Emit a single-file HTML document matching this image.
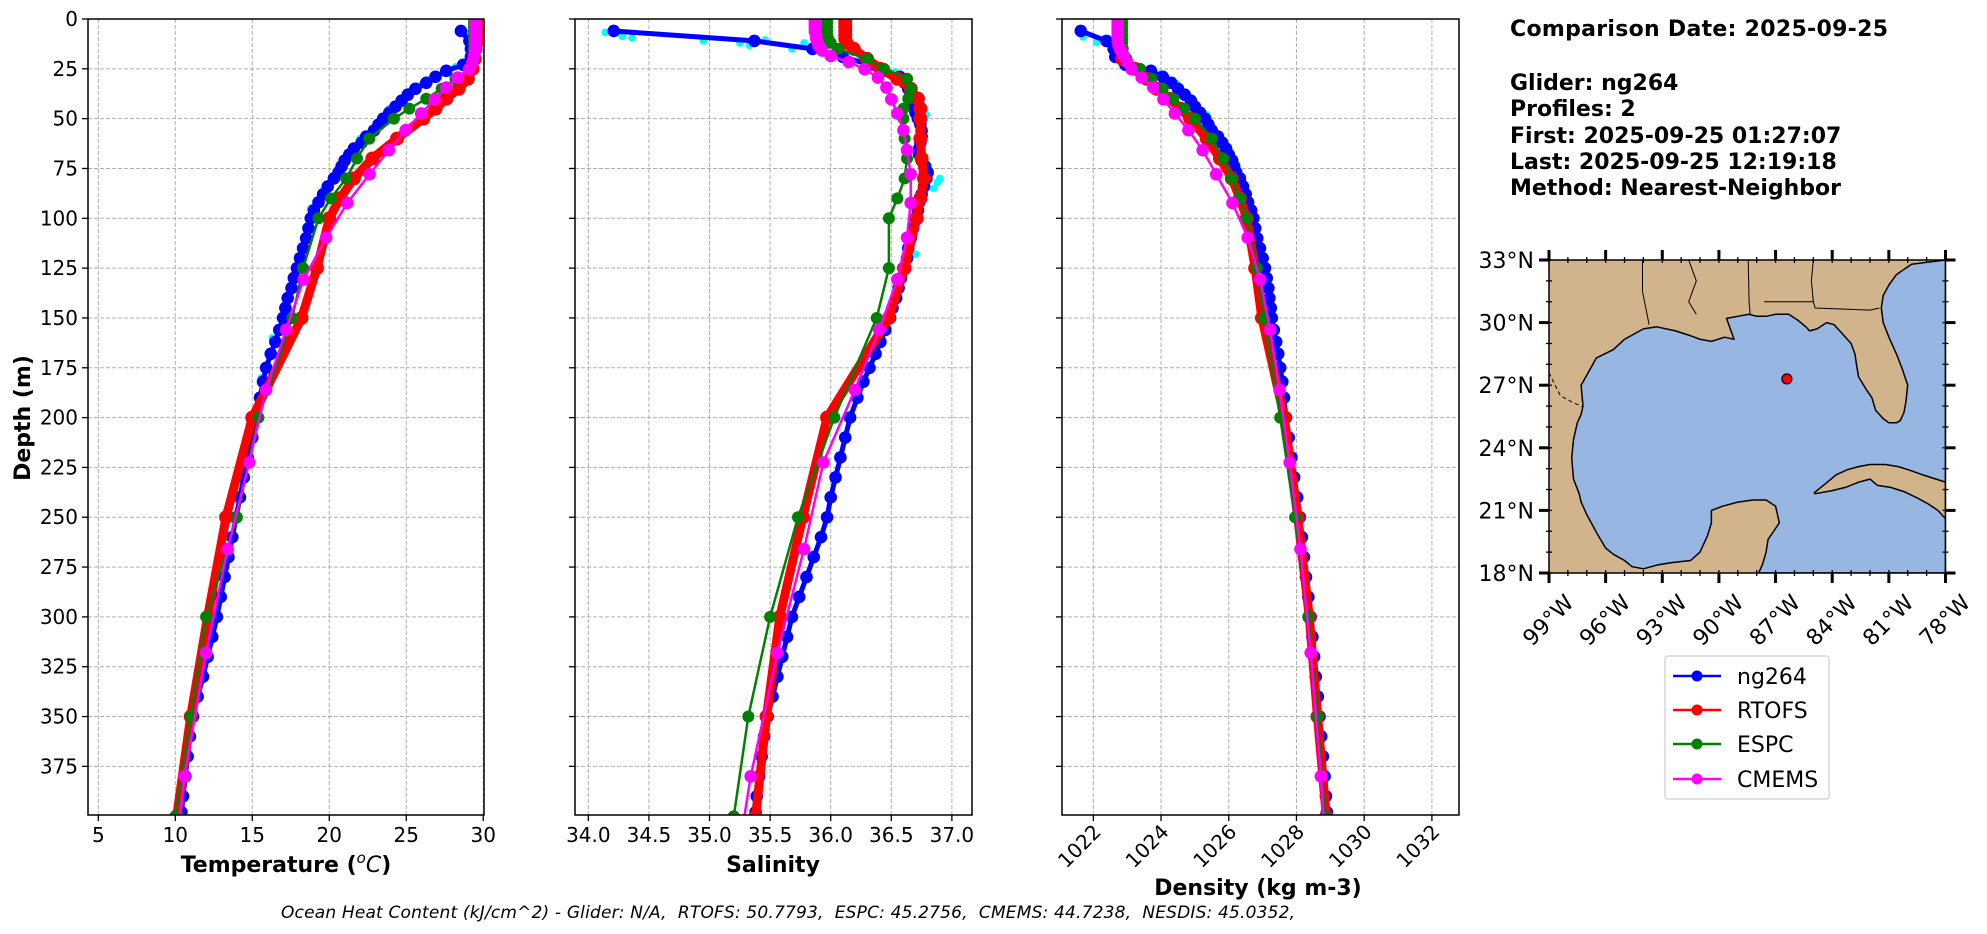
<!DOCTYPE html>
<html><head><meta charset="utf-8"><title>Glider vs models profile comparison</title>
<style>
html,body{margin:0;padding:0;background:#fff;}
svg{display:block;font-family:"DejaVu Sans","Liberation Sans",sans-serif;}
.tick{font-size:20px;fill:#000;}
.lab{font-size:22px;font-weight:bold;fill:#000;}
.grid{stroke:#b0b0b0;stroke-width:1;stroke-dasharray:4,2;}
</style></head>
<body>
<svg id="fig" width="1987" height="934" viewBox="0 0 1987 934" xmlns="http://www.w3.org/2000/svg">
<rect width="1987" height="934" fill="#fff"/>
<g id="panels"></g>
<g id="map"></g>
<g font-weight="bold" font-size="22">
<text x="1510" y="36" textLength="378">Comparison Date: 2025-09-25</text>
<text x="1510" y="90">Glider: ng264</text>
<text x="1510" y="116">Profiles: 2</text>
<text x="1510" y="143">First: 2025-09-25 01:27:07</text>
<text x="1510" y="169">Last: 2025-09-25 12:19:18</text>
<text x="1510" y="195">Method: Nearest-Neighbor</text>
</g>
<g>
<rect x="1665" y="656" width="164" height="143" rx="3" fill="#fff" stroke="#d5d5d5" stroke-width="1.5"/>
<g><line x1="1673" y1="676" x2="1721" y2="676" stroke="#0000ff" stroke-width="2.5"/><circle cx="1697" cy="676" r="5.5" fill="#0000ff"/><text x="1737" y="684" font-size="22">ng264</text></g>
<g><line x1="1673" y1="710" x2="1721" y2="710" stroke="#ff0000" stroke-width="2.5"/><circle cx="1697" cy="710" r="5.5" fill="#ff0000"/><text x="1737" y="718" font-size="22">RTOFS</text></g>
<g><line x1="1673" y1="744" x2="1721" y2="744" stroke="#008000" stroke-width="2.5"/><circle cx="1697" cy="744" r="5.5" fill="#008000"/><text x="1737" y="752" font-size="22">ESPC</text></g>
<g><line x1="1673" y1="779" x2="1721" y2="779" stroke="#ff00ff" stroke-width="2.5"/><circle cx="1697" cy="779" r="5.5" fill="#ff00ff"/><text x="1737" y="787" font-size="22">CMEMS</text></g>
</g>
<text x="281" y="918" font-size="17" font-style="italic" textLength="1014" xml:space="preserve">Ocean Heat Content (kJ/cm^2) - Glider: N/A,  RTOFS: 50.7793,  ESPC: 45.2756,  CMEMS: 44.7238,  NESDIS: 45.0352,</text>
</svg>
<script>
// ---------- data ----------
const gDepth=[6,11,15,19,23,26,29,32,35,38,41,44,47,50,53,56,59,62,65,68,71,74,77,80,84,88,92,96,100,105,110,115,120,125,130,135,140,145,150,156,162,168,175,182,190,200,210,220,230,240,250,260,270,280,290,300,310,320,330,340,350,360,370,380,390,398];
const gTemp=[28.55,29.1,29.2,29.2,28.7,27.6,26.9,26.3,25.6,25.1,24.7,24.3,23.9,23.5,23.2,22.9,22.4,22.1,21.6,21.3,21.0,20.8,20.6,20.3,19.9,19.6,19.3,19.0,18.8,18.65,18.5,18.3,18.1,17.9,17.7,17.55,17.3,17.15,17.0,16.75,16.5,16.2,15.9,15.7,15.5,15.3,15.0,14.7,14.45,14.2,13.95,13.7,13.45,13.2,12.95,12.7,12.4,12.1,11.8,11.45,11.15,10.95,10.8,10.65,10.5,10.4];
const gSal=[34.21,35.37,35.85,36.1,36.33,36.43,36.57,36.61,36.64,36.66,36.67,36.68,36.7,36.72,36.74,36.75,36.75,36.74,36.73,36.73,36.75,36.78,36.8,36.79,36.77,36.75,36.73,36.72,36.7,36.68,36.66,36.64,36.63,36.6,36.58,36.56,36.54,36.51,36.49,36.45,36.41,36.37,36.32,36.27,36.22,36.16,36.12,36.08,36.04,36.0,35.97,35.92,35.86,35.8,35.74,35.68,35.64,35.6,35.56,35.52,35.48,35.45,35.43,35.41,35.39,35.38];
const gDen=[1021.63,1022.39,1022.6,1022.65,1022.95,1023.7,1024.05,1024.3,1024.5,1024.7,1024.88,1025.0,1025.15,1025.3,1025.4,1025.5,1025.68,1025.8,1025.92,1026.0,1026.1,1026.16,1026.22,1026.33,1026.42,1026.5,1026.57,1026.66,1026.73,1026.78,1026.84,1026.92,1027.0,1027.07,1027.12,1027.17,1027.2,1027.24,1027.27,1027.33,1027.4,1027.46,1027.52,1027.58,1027.63,1027.69,1027.77,1027.85,1027.93,1028.02,1028.1,1028.16,1028.22,1028.28,1028.35,1028.42,1028.47,1028.52,1028.57,1028.63,1028.68,1028.73,1028.78,1028.83,1028.87,1028.9];

const cTDepth=[5,7,9,12,14,18,24,27,30,33,36,40,45,52,60,70,78,86,95,105,115,125,140,160,180];
const cTemp=[28.6,28.9,29.0,29.1,29.2,29.1,28.2,27.4,26.6,26.0,25.3,24.6,23.9,23.1,22.0,20.9,20.4,19.6,18.8,18.5,18.2,17.8,17.2,16.3,15.6];
const cSDepth=[6.7,8.7,9.5,11.0,12.0,13.2,10.5,15.0,12.0,26.5,48,80,82,85,118];
const cSal=[34.14,34.28,34.36,34.95,35.25,35.33,35.46,35.68,35.78,36.53,36.79,36.9,36.88,36.85,36.7];
const cDDepth=[9,11.7,27.5,32.5,38,48,59];
const cDen=[1021.7,1022.1,1024.0,1024.46,1024.76,1025.35,1025.74];

const rDepth=[0,2,4,6,8,10,12,15,20,25,30,35,40,45,50,60,70,80,90,100,125,150,200,250,300,350,400];
const rTemp=[29.6,29.6,29.6,29.6,29.6,29.55,29.55,29.5,29.45,29.3,29.0,28.4,27.6,26.9,26.1,24.4,22.8,21.6,20.7,20.0,19.2,18.2,15.0,13.3,12.1,11.0,10.1];
const rSal=[36.12,36.12,36.12,36.12,36.12,36.12,36.13,36.19,36.3,36.41,36.55,36.66,36.72,36.74,36.74,36.74,36.75,36.77,36.74,36.71,36.61,36.48,35.97,35.77,35.58,35.47,35.38];
const rDen=[1022.78,1022.78,1022.78,1022.78,1022.78,1022.78,1022.78,1022.8,1022.85,1023.23,1023.58,1023.87,1024.27,1024.57,1024.86,1025.35,1025.74,1026.09,1026.33,1026.53,1026.78,1026.98,1027.64,1028.04,1028.38,1028.62,1028.88];

const eDepth=[0,2,4,6,8,10,12,15,20,25,30,35,40,45,50,60,70,80,90,100,125,150,200,250,300,350,400];
const eTemp=[29.4,29.4,29.4,29.4,29.4,29.4,29.4,29.4,29.35,29.1,28.2,27.3,26.3,25.2,24.2,22.6,21.8,21.1,20.1,19.3,18.3,17.6,15.4,14.0,12.0,11.0,10.0];
const eSal=[35.97,35.97,35.97,35.97,35.97,35.98,36.0,36.06,36.3,36.44,36.63,36.66,36.64,36.6,36.6,36.61,36.63,36.61,36.55,36.48,36.48,36.38,36.03,35.73,35.5,35.32,35.2];
const eDen=[1022.85,1022.85,1022.85,1022.85,1022.85,1022.85,1022.85,1022.87,1022.98,1023.38,1023.72,1024.05,1024.36,1024.68,1025.0,1025.5,1025.84,1026.09,1026.33,1026.53,1026.83,1027.04,1027.52,1027.96,1028.35,1028.62,1028.85];

const mDepth=[0.5,1.5,2.6,3.8,5,6.4,7.9,9.6,11.4,13.5,15.8,18.5,21.6,25.2,29.4,34.4,40.3,47.4,55.8,65.8,77.9,92.3,109.7,130.7,155.9,186.1,222.5,266,318,380,453];
const mTemp=[29.5,29.5,29.5,29.5,29.5,29.5,29.5,29.5,29.5,29.48,29.45,29.4,29.3,29.07,28.35,27.6,26.84,25.97,24.96,23.87,22.62,21.17,19.8,18.33,17.2,15.9,14.8,13.4,12.0,10.6,9.5];
const mSal=[35.87,35.87,35.87,35.87,35.87,35.87,35.88,35.88,35.89,35.9,35.93,36.0,36.15,36.28,36.39,36.46,36.5,36.55,36.6,36.63,36.66,36.66,36.63,36.55,36.4,36.2,35.94,35.78,35.56,35.34,35.15];
const mDen=[1022.72,1022.72,1022.72,1022.72,1022.72,1022.72,1022.72,1022.72,1022.72,1022.75,1022.82,1022.9,1023.0,1023.13,1023.43,1023.77,1024.07,1024.41,1024.81,1025.23,1025.63,1026.11,1026.56,1026.93,1027.22,1027.5,1027.8,1028.12,1028.42,1028.72,1029.0];

const depthTicks=[0,25,50,75,100,125,150,175,200,225,250,275,300,325,350,375];
const tempTicks=[5,10,15,20,25,30];
const salTicks=[34.0,34.5,35.0,35.5,36.0,36.5,37.0];
const denTicks=[1022,1024,1026,1028,1030,1032];

// map data
const coastLon=[-97.2,-97.3,-96.8,-96.5,-95.6,-95.0,-94.4,-94.0,-93.3,-92.3,-91.6,-91.0,-90.4,-89.7,-89.2,-89.4,-89.6,-89.0,-88.4,-88.0,-87.5,-87.0,-86.3,-85.8,-85.4,-85.2,-84.8,-84.3,-83.9,-83.5,-83.0,-82.8,-82.7,-82.6,-82.2,-81.9,-81.7,-81.3,-81.0,-80.6,-80.4,-80.2,-80.1,-80.0,-80.3,-80.6,-81.0,-81.3,-81.4,-81.3,-81.0,-80.6,-79.8,-78,-78,-87.9,-87.7,-87.5,-87.4,-86.8,-87.0,-87.5,-88.2,-89.0,-89.8,-90.4,-90.4,-90.6,-91.0,-91.5,-92.5,-93.2,-94.0,-94.6,-95.0,-95.6,-96.0,-96.4,-96.7,-97.0,-97.3,-97.4,-97.7,-97.8,-97.7,-97.5,-97.3];
const coastLat=[26.0,27.0,27.8,28.3,28.7,29.2,29.5,29.7,29.8,29.6,29.4,29.2,29.1,29.3,29.2,29.7,30.2,30.3,30.4,30.3,30.3,30.4,30.4,30.1,29.8,29.6,29.7,30.0,29.9,29.5,29.0,28.5,27.9,27.4,26.8,26.4,25.8,25.4,25.2,25.2,25.3,25.7,26.2,27.0,27.8,28.5,29.3,30.0,30.7,31.3,31.8,32.3,32.8,33.0,18,18,18.4,19.0,19.6,20.4,21.2,21.5,21.5,21.4,21.2,21.0,20.4,19.8,19.0,18.6,18.5,18.4,18.2,18.3,18.6,18.9,19.2,19.8,20.3,20.8,21.4,21.8,22.5,23.5,24.4,25.2,25.6];
const cubaLon=[-84.95,-84.4,-83.8,-83.2,-82.6,-82.0,-81.2,-80.5,-79.8,-79.2,-78.5,-78,-78,-78.4,-78.9,-79.5,-80.2,-80.9,-81.6,-82.0,-82.6,-83.3,-84.0,-84.6,-84.9];
const cubaLat=[21.85,22.25,22.7,22.95,23.1,23.2,23.2,23.1,22.9,22.7,22.5,22.35,20.6,21.0,21.3,21.6,21.9,22.1,22.2,22.5,22.35,22.1,21.95,21.85,21.8];
const borderLon=[[-94.05,-94.05,-93.7],[-91.6,-91.2,-91.6,-91.2],[-88.45,-88.4,-88.35],[-85.0,-85.1,-85.0],[-87.6,-85.0,-84.9,-82.0,-81.5],[-99,-98.4,-97.8,-97.2]];
const borderLat=[[33,31.5,29.9],[33,32.0,31.0,30.4],[33,31.0,30.4],[33,32.0,31.0],[31.0,31.0,30.7,30.6,30.7],[27.6,26.5,26.2,25.95]];
const stationLon=[-86.4];
const stationLat=[27.3];
const latTicks=[18,21,24,27,30,33];
const lonTicks=[-99,-96,-93,-90,-87,-84,-81,-78];

// ---------- drawing ----------
const NS='http://www.w3.org/2000/svg';
function mk(tag,attrs,parent){const e=document.createElementNS(NS,tag);for(const k in attrs)e.setAttribute(k,attrs[k]);parent.appendChild(e);return e;}
const Y0=19,Y1=815,DMAX=399.4;
function sy(d){return Y0+d/DMAX*(Y1-Y0);}
const panels=[
 {id:'temperature',x0:88,x1:484,min:4.33,max:30.05,ticks:tempTicks,fmt:v=>String(v),rot:false,label:'temp'},
 {id:'salinity',x0:575,x1:972,min:33.89,max:37.166,ticks:salTicks,fmt:v=>v.toFixed(1),rot:false,label:'sal'},
 {id:'density',x0:1062,x1:1459,min:1021.075,max:1032.8,ticks:denTicks,fmt:v=>String(v),rot:true,label:'den'}
];
function sx(p,v){return p.x0+(v-p.min)/(p.max-p.min)*(p.x1-p.x0);}
const root=document.getElementById('panels');
const defs=mk('defs',{},root);
panels.forEach((p,pi)=>{
  const g=mk('g',{},root);
  
  
  const cp=mk('clipPath',{id:'clip'+pi},defs);
  mk('rect',{x:p.x0,y:Y0,width:p.x1-p.x0,height:Y1-Y0},cp);
  const gg=mk('g',{},g);
  
  
  p.ticks.forEach(t=>{const x=sx(p,t);mk('line',{x1:x,x2:x,y1:Y0,y2:Y1,class:'grid'},gg);});
  depthTicks.forEach(d=>{const y=sy(d);mk('line',{x1:p.x0,x2:p.x1,y1:y,y2:y,class:'grid'},gg);});
  const plot=mk('g',{'clip-path':'url(#clip'+pi+')'},g);
  
  
  const sets={
    temp:[[cTDepth,cTemp],[gDepth,gTemp],[rDepth,rTemp],[eDepth,eTemp],[mDepth,mTemp]],
    sal:[[cSDepth,cSal],[gDepth,gSal],[rDepth,rSal],[eDepth,eSal],[mDepth,mSal]],
    den:[[cDDepth,cDen],[gDepth,gDen],[rDepth,rDen],[eDepth,eDen],[mDepth,mDen]]
  }[p.label];
  const styles=[
    {name:'glider-raw',col:'#00ffff',lw:0,r:3.8},
    {name:'ng264',col:'#0000ff',lw:5,r:6.3},
    {name:'rtofs',col:'#ff0000',lw:9,r:7},
    {name:'espc',col:'#008000',lw:2.5,r:6},
    {name:'cmems',col:'#ff00ff',lw:2.5,r:6.3}
  ];
  sets.forEach((s,si)=>{
    const st=styles[si];
    const sg=mk('g',{},plot);
    
    
    const pts=s[0].map((d,i)=>sx(p,s[1][i]).toFixed(1)+','+sy(d).toFixed(1));
    if(st.lw>0){
      const pl=mk('polyline',{points:pts.join(' '),fill:'none',stroke:st.col,'stroke-width':st.lw,'stroke-linejoin':'round'},sg);
      
      
    }
    s[0].forEach((d,i)=>{
      const c=mk('circle',{cx:sx(p,s[1][i]),cy:sy(d),r:st.r,fill:st.col},sg);
      
      
    });
  });
  const fr=mk('rect',{x:p.x0,y:Y0,width:p.x1-p.x0,height:Y1-Y0,fill:'none',stroke:'#000','stroke-width':1.5},g);
  
  
  const xt=mk('g',{},g);
  
  
  p.ticks.forEach(t=>{
    const x=sx(p,t);
    mk('line',{x1:x,x2:x,y1:Y1,y2:Y1+6,stroke:'#000','stroke-width':1.3},xt);
    let tx;
    if(p.rot){tx=mk('text',{x:x+9,y:Y1+18,class:'tick','text-anchor':'end',transform:'rotate(-45 '+(x+9)+' '+(Y1+18)+')'},xt);}
    else{tx=mk('text',{x:x,y:Y1+27,class:'tick','text-anchor':'middle'},xt);}
    tx.textContent=p.fmt(t);
    
    
  });
  const yt=mk('g',{},g);
  
  
  depthTicks.forEach(d=>{
    const y=sy(d);
    mk('line',{x1:p.x0-6,x2:p.x0,y1:y,y2:y,stroke:'#000','stroke-width':1.3},yt);
    if(pi===0){
      const tx=mk('text',{x:p.x0-10,y:y+7,class:'tick','text-anchor':'end'},yt);
      tx.textContent=String(d);
      
      
    }
  });
});
const xl1=mk('text',{x:286,y:872,class:'lab','text-anchor':'middle'},root);
xl1.innerHTML='Temperature (<tspan font-size="15" dy="-9" font-weight="normal" font-style="italic">o</tspan><tspan dy="9" font-style="italic" font-weight="normal">C</tspan>)';


const xl2=mk('text',{x:773,y:872,class:'lab','text-anchor':'middle'},root);
xl2.textContent='Salinity';


const xl3=mk('text',{x:1258,y:895,class:'lab','text-anchor':'middle'},root);
xl3.textContent='Density (kg m-3)';


const yl=mk('text',{x:30,y:418,class:'lab','text-anchor':'middle',transform:'rotate(-90 30 418)'},root);
yl.textContent='Depth (m)';



// ---------- map ----------
const M={x0:1549,x1:1945.5,y0:260,y1:573,lon0:-99,lon1:-78,lat0:18,lat1:33};
function mx(l){return M.x0+(l-M.lon0)/(M.lon1-M.lon0)*(M.x1-M.x0);}
function my(l){return M.y1-(l-M.lat0)/(M.lat1-M.lat0)*(M.y1-M.y0);}
const mg=document.getElementById('map');
const mdefs=mk('defs',{},mg);
const mcp=mk('clipPath',{id:'mapclip'},mdefs);
mk('rect',{x:M.x0,y:M.y0,width:M.x1-M.x0,height:M.y1-M.y0},mcp);
const mbody=mk('g',{'clip-path':'url(#mapclip)'},mg);
const land=mk('rect',{x:M.x0,y:M.y0,width:M.x1-M.x0,height:M.y1-M.y0,fill:'#d2b48c'},mbody);


const ocean=mk('polygon',{points:coastLon.map((l,i)=>mx(l).toFixed(1)+','+my(coastLat[i]).toFixed(1)).join(' '),fill:'#97b6e1',stroke:'#000','stroke-width':1.5,'stroke-linejoin':'round'},mbody);


const cuba=mk('polygon',{points:cubaLon.map((l,i)=>mx(l).toFixed(1)+','+my(cubaLat[i]).toFixed(1)).join(' '),fill:'#d2b48c',stroke:'#000','stroke-width':1.5},mbody);


borderLon.forEach((bl,bi)=>{
  const b=mk('polyline',{points:bl.map((l,i)=>mx(l).toFixed(1)+','+my(borderLat[bi][i]).toFixed(1)).join(' '),fill:'none',stroke:'#000','stroke-width':1,'stroke-dasharray':bi===5?'4,3':'none'},mbody);
  
  
});
stationLon.forEach((l,i)=>{
  const c=mk('circle',{cx:mx(l),cy:my(stationLat[i]),r:5,fill:'#ff0000',stroke:'#000','stroke-width':1.2},mbody);
  
  
});
const mf=mk('rect',{x:M.x0,y:M.y0,width:M.x1-M.x0,height:M.y1-M.y0,fill:'none',stroke:'#000','stroke-width':1.5},mg);


const mt=mk('g',{},mg);


for(let la=M.lat0;la<=M.lat1;la++){const y=my(la);mk('line',{x1:M.x0-3,x2:M.x0+3,y1:y,y2:y,stroke:'#000','stroke-width':1.3},mt);mk('line',{x1:M.x1-3,x2:M.x1+3,y1:y,y2:y,stroke:'#000','stroke-width':1.3},mt);}
for(let lo=M.lon0;lo<=M.lon1;lo++){const x=mx(lo);mk('line',{x1:x,x2:x,y1:M.y1-3,y2:M.y1+3,stroke:'#000','stroke-width':1.3},mt);mk('line',{x1:x,x2:x,y1:M.y0-3,y2:M.y0+3,stroke:'#000','stroke-width':1.3},mt);}
latTicks.forEach(la=>{
  const y=my(la);
  mk('line',{x1:M.x0-10,x2:M.x0,y1:y,y2:y,stroke:'#000','stroke-width':3},mt);
  mk('line',{x1:M.x1,x2:M.x1+10,y1:y,y2:y,stroke:'#000','stroke-width':3},mt);
  const t=mk('text',{x:M.x0-15,y:y+8,'font-size':22,'text-anchor':'end'},mt);
  t.textContent=la+'°N';
  
  
});
lonTicks.forEach(lo=>{
  const x=mx(lo);
  mk('line',{x1:x,x2:x,y1:M.y1,y2:M.y1+10,stroke:'#000','stroke-width':3},mt);
  mk('line',{x1:x,x2:x,y1:M.y0-10,y2:M.y0,stroke:'#000','stroke-width':3},mt);
  const tx=x+26,ty=M.y1+31;
  const t=mk('text',{x:tx,y:ty,'font-size':22,'text-anchor':'end',transform:'rotate(-45 '+tx+' '+ty+')'},mt);
  t.textContent=Math.abs(lo)+'°W';
  
  
});
</script>
</body></html>
